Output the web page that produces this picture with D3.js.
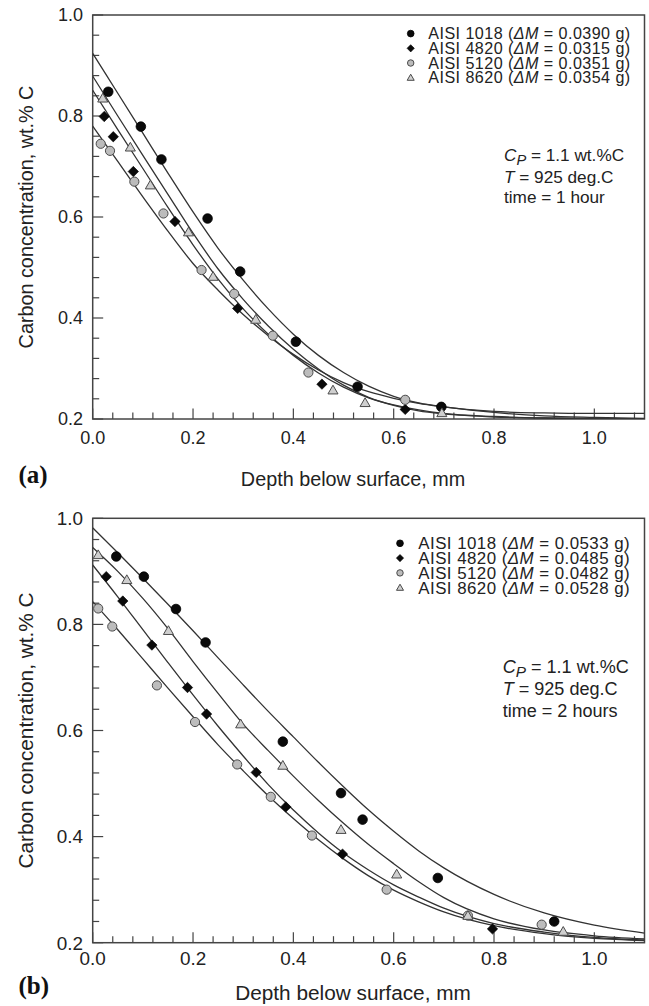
<!DOCTYPE html>
<html><head><meta charset="utf-8">
<script src="https://cdn.jsdelivr.net/npm/d3@7"></script>
<style>body{margin:0;background:#fff}svg{display:block}</style>
</head><body>
<svg id="chart" width="649" height="1006"></svg>
<script>
// ---------- data ----------
const xTickValues = [0, 0.2, 0.4, 0.6, 0.8, 1.0];
const yTickValues = [0.2, 0.4, 0.6, 0.8, 1.0];
const seriesNames = ["AISI 1018", "AISI 4820", "AISI 5120", "AISI 8620"];
const massGainA = ["0.0390", "0.0315", "0.0351", "0.0354"];
const massGainB = ["0.0533", "0.0485", "0.0482", "0.0528"];
const timeLabels = ["1 hour", "2 hours"];
const panelLabels = ["(a)", "(b)"];

// fitted curves, read at these depths (mm)
const curveDepths = [0, 0.05, 0.1, 0.15, 0.2, 0.25, 0.3, 0.35, 0.4, 0.45, 0.5, 0.55, 0.6, 0.65, 0.7, 0.8, 0.9, 1.0, 1.1];
const curveA1018 = [0.924, 0.845, 0.766, 0.687, 0.610, 0.538, 0.475, 0.418, 0.368, 0.326, 0.292, 0.265, 0.245, 0.232, 0.224, 0.215, 0.212, 0.211, 0.211];
const curveA4820 = [0.851, 0.773, 0.696, 0.619, 0.545, 0.477, 0.418, 0.368, 0.326, 0.291, 0.263, 0.242, 0.228, 0.218, 0.211, 0.205, 0.202, 0.201, 0.200];
const curveA5120 = [0.780, 0.710, 0.640, 0.572, 0.508, 0.455, 0.407, 0.365, 0.328, 0.297, 0.272, 0.254, 0.241, 0.231, 0.224, 0.213, 0.206, 0.203, 0.201];
const curveA8620 = [0.879, 0.800, 0.722, 0.645, 0.568, 0.497, 0.437, 0.384, 0.338, 0.299, 0.267, 0.243, 0.227, 0.216, 0.210, 0.204, 0.202, 0.201, 0.200];
const curveB1018 = [0.982, 0.935, 0.887, 0.838, 0.788, 0.737, 0.686, 0.636, 0.588, 0.540, 0.494, 0.450, 0.410, 0.373, 0.341, 0.291, 0.256, 0.233, 0.218];
const curveB4820 = [0.912, 0.852, 0.790, 0.728, 0.667, 0.608, 0.552, 0.498, 0.450, 0.407, 0.369, 0.337, 0.309, 0.286, 0.265, 0.236, 0.220, 0.210, 0.205];
const curveB5120 = [0.843, 0.790, 0.735, 0.680, 0.626, 0.573, 0.524, 0.477, 0.434, 0.394, 0.358, 0.326, 0.299, 0.277, 0.258, 0.232, 0.217, 0.208, 0.204];
const curveB8620 = [0.945, 0.900, 0.849, 0.792, 0.730, 0.670, 0.612, 0.562, 0.514, 0.468, 0.425, 0.385, 0.349, 0.315, 0.285, 0.245, 0.224, 0.213, 0.207];

// measured points [depth mm, wt.% C]
const ptsA1018 = [[0.031,0.848],[0.096,0.779],[0.137,0.714],[0.229,0.597],[0.294,0.492],[0.405,0.353],[0.528,0.264],[0.695,0.224]];
const ptsA4820 = [[0.023,0.799],[0.041,0.759],[0.081,0.690],[0.164,0.591],[0.289,0.419],[0.457,0.269],[0.623,0.219]];
const ptsA5120 = [[0.016,0.745],[0.0345,0.731],[0.083,0.670],[0.141,0.607],[0.217,0.495],[0.282,0.448],[0.359,0.365],[0.430,0.292],[0.623,0.238]];
const ptsA8620 = [[0.020,0.835],[0.075,0.738],[0.115,0.663],[0.191,0.570],[0.240,0.482],[0.325,0.397],[0.479,0.257],[0.543,0.232],[0.696,0.212]];
const ptsB1018 = [[0.047,0.928],[0.102,0.890],[0.166,0.829],[0.225,0.766],[0.379,0.579],[0.495,0.482],[0.538,0.432],[0.688,0.322],[0.920,0.240]];
const ptsB4820 = [[0.027,0.890],[0.060,0.844],[0.118,0.761],[0.189,0.681],[0.227,0.631],[0.326,0.521],[0.385,0.456],[0.498,0.367],[0.797,0.226]];
const ptsB5120 = [[0.011,0.830],[0.039,0.796],[0.128,0.685],[0.204,0.616],[0.288,0.536],[0.355,0.475],[0.437,0.402],[0.586,0.300],[0.748,0.251],[0.895,0.234]];
const ptsB8620 = [[0.011,0.931],[0.068,0.884],[0.151,0.788],[0.295,0.612],[0.379,0.534],[0.495,0.413],[0.606,0.329],[0.748,0.251],[0.938,0.221]];

// ---------- drawing ----------
const svg = d3.select("#chart");
const FONT = "'Liberation Sans', Arial, Helvetica, sans-serif";

const panels = [
  { top: 15, bottom: 419, k: 1.0, curves: [curveA1018, curveA4820, curveA5120, curveA8620],
    pts: [ptsA1018, ptsA4820, ptsA5120, ptsA8620], mass: massGainA, time: timeLabels[0], label: panelLabels[0],
    tickBase: 444, titleBase: 485.5, labelBase: 482.5, legX: 410.7, legTextX: 428.3, legY0: 33.6, legDy: 14.7,
    legFont: 16.1, infoX: 504, infoY: [161, 183, 203] },
  { top: 518.3, bottom: 942.7, k: 1.05, curves: [curveB1018, curveB4820, curveB5120, curveB8620],
    pts: [ptsB1018, ptsB4820, ptsB5120, ptsB8620], mass: massGainB, time: timeLabels[1], label: panelLabels[1],
    tickBase: 965, titleBase: 1000, labelBase: 993.5, legX: 400, legTextX: 418.3, legY0: 543.3, legDy: 14.8,
    legFont: 16.9, infoX: 502.7, infoY: [673.3, 695, 716.7] }
];
const left = 92.7, right = 644.5;

function marker(g, type, cx, cy, s) {
  if (type === 0) {
    g.append("circle").attr("cx", cx).attr("cy", cy).attr("r", 4.8 * s).attr("fill", "#0a0a0a").attr("stroke", "#000").attr("stroke-width", 0.8);
  } else if (type === 1) {
    const h = 5.2 * s;
    g.append("path").attr("d", `M${cx},${cy - h}L${cx + h},${cy}L${cx},${cy + h}L${cx - h},${cy}Z`).attr("fill", "#0a0a0a").attr("stroke", "#000").attr("stroke-width", 0.6);
  } else if (type === 2) {
    g.append("circle").attr("cx", cx).attr("cy", cy).attr("r", 4.6 * s).attr("fill", "#bcbcbc").attr("stroke", "#4a4a4a").attr("stroke-width", 1);
  } else {
    const sym = d3.symbol().type(d3.symbolTriangle).size(44 * s * s);
    g.append("path").attr("d", sym()).attr("transform", `translate(${cx},${cy + 0.8 * s})`).attr("fill", "#cfcfcf").attr("stroke", "#4a4a4a").attr("stroke-width", 1);
  }
}

panels.forEach((p) => {
  const k = p.k;
  const x = d3.scaleLinear().domain([0, 1.1]).range([left, right]);
  const y = d3.scaleLinear().domain([0.2, 1.0]).range([p.bottom, p.top]);
  const g = svg.append("g");

  const cid = "clip" + p.label.replace(/\W/g, "");
  svg.append("clipPath").attr("id", cid).append("rect").attr("x", left).attr("y", p.top).attr("width", right - left).attr("height", p.bottom - p.top);

  // ticks (inward)
  const xt = d3.range(0, 1.1, 0.04);
  g.selectAll(null).data(xt).enter().append("line")
    .attr("x1", d => x(d)).attr("x2", d => x(d))
    .attr("y1", p.bottom).attr("y2", (d, i) => p.bottom - (i % 5 === 0 ? 10.5 : 6.5))
    .attr("stroke", "#444").attr("stroke-width", 1.2);
  const yt = d3.range(0.2, 1.001, 0.04);
  g.selectAll(null).data(yt).enter().append("line")
    .attr("y1", d => y(d)).attr("y2", d => y(d))
    .attr("x1", left).attr("x2", (d, i) => left + (i % 5 === 0 ? 10.5 : 6.5))
    .attr("stroke", "#444").attr("stroke-width", 1.2);

  // frame
  g.append("rect").attr("x", left).attr("y", p.top).attr("width", right - left).attr("height", p.bottom - p.top)
    .attr("fill", "none").attr("stroke", "#444").attr("stroke-width", 1.5);

  // tick labels
  g.selectAll(null).data(xTickValues).enter().append("text")
    .attr("x", d => x(d)).attr("y", p.tickBase).attr("text-anchor", "middle")
    .attr("font-family", FONT).attr("font-size", 18 * k).attr("fill", "#222")
    .text(d => d3.format(".1f")(d));
  g.selectAll(null).data(yTickValues).enter().append("text")
    .attr("x", 83).attr("y", d => y(d)).attr("dy", "0.36em").attr("text-anchor", "end")
    .attr("font-family", FONT).attr("font-size", 18 * k).attr("fill", "#222")
    .text(d => d3.format(".1f")(d));

  // axis titles
  g.append("text").attr("x", 353).attr("y", p.titleBase).attr("text-anchor", "middle")
    .attr("font-family", FONT).attr("font-size", 19.8 * k).attr("fill", "#222")
    .text("Depth below surface, mm");
  const yc = (p.top + p.bottom) / 2;
  g.append("text").attr("transform", `translate(32.5,${yc}) rotate(-90)`).attr("text-anchor", "middle")
    .attr("font-family", FONT).attr("font-size", 19.8 * k).attr("fill", "#222")
    .text("Carbon concentration, wt.% C");

  // panel label
  g.append("text").attr("x", 18.5).attr("y", p.labelBase)
    .attr("font-family", "'Liberation Serif', 'Times New Roman', serif").attr("font-weight", "bold")
    .attr("font-size", 25).attr("fill", "#111").text(p.label);

  // curves
  const line = d3.line().x(d => x(d[0])).y(d => y(d[1])).curve(d3.curveMonotoneX);
  const cg = g.append("g").attr("clip-path", `url(#${cid})`);
  p.curves.forEach(c => {
    cg.append("path").attr("d", line(curveDepths.map((d, i) => [d, c[i]])))
      .attr("fill", "none").attr("stroke", "#333").attr("stroke-width", 1.3);
  });

  // markers
  p.pts.forEach((arr, si) => {
    arr.forEach(d => marker(g, si, x(d[0]), y(d[1]), 1));
  });

  // legend
  seriesNames.forEach((name, i) => {
    const cy = p.legY0 + i * p.legDy;
    marker(g, i, p.legX, cy, 0.7);
    const t = g.append("text").attr("x", p.legTextX).attr("y", cy).attr("dy", "0.36em")
      .attr("font-family", FONT).attr("font-size", p.legFont).attr("letter-spacing", 0.45).attr("fill", "#222");
    t.append("tspan").text(name + " (");
    t.append("tspan").attr("font-style", "italic").text("\u0394M");
    t.append("tspan").text(" = " + p.mass[i] + " g)");
  });

  // info block
  const fs = 17.2 * k;
  const t1 = g.append("text").attr("x", p.infoX).attr("y", p.infoY[0]).attr("font-family", FONT).attr("font-size", fs).attr("fill", "#222");
  t1.append("tspan").attr("font-style", "italic").text("C");
  t1.append("tspan").attr("font-style", "italic").attr("font-size", fs * 0.85).attr("dy", 4).text("P");
  t1.append("tspan").attr("dy", -4).text(" = 1.1 wt.%C");
  const t2 = g.append("text").attr("x", p.infoX).attr("y", p.infoY[1]).attr("font-family", FONT).attr("font-size", fs).attr("fill", "#222");
  t2.append("tspan").attr("font-style", "italic").text("T");
  t2.append("tspan").text(" = 925 deg.C");
  g.append("text").attr("x", p.infoX).attr("y", p.infoY[2]).attr("font-family", FONT).attr("font-size", fs).attr("fill", "#222")
    .text("time = " + p.time);
});
</script>
</body></html>
